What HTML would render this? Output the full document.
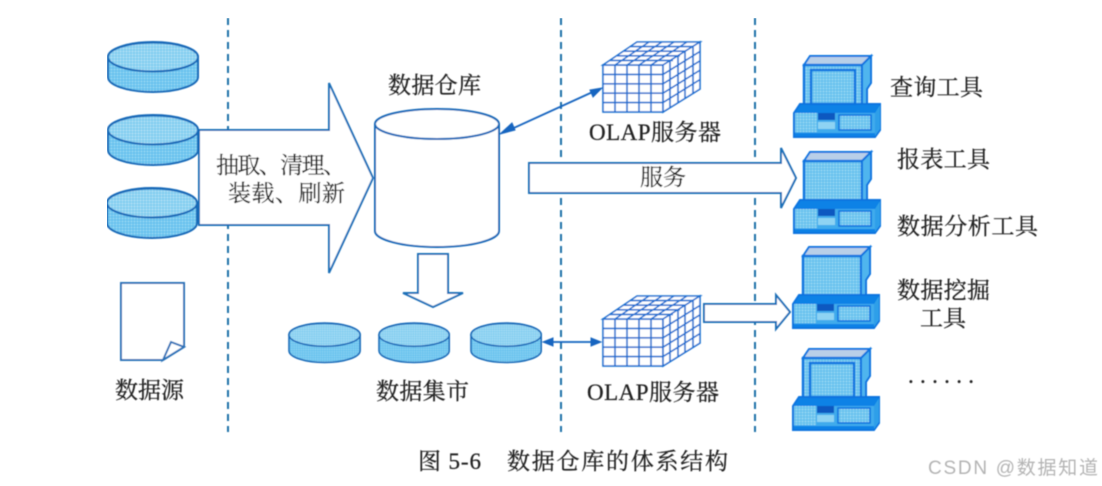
<!DOCTYPE html>
<html>
<head>
<meta charset="utf-8">
<style>
html,body{margin:0;padding:0;background:#fff;width:1102px;height:486px;overflow:hidden}
svg{display:block}
text{font-family:"Liberation Serif","Noto Serif CJK SC",serif;fill:#222;stroke:#222;stroke-width:.25}
</style>
</head>
<body>
<svg width="1102" height="486" viewBox="0 0 1102 486" xmlns="http://www.w3.org/2000/svg">
<defs>
<filter id="soft" x="0" y="0" width="100%" height="100%"><feGaussianBlur stdDeviation="0.5"/></filter>
<pattern id="dots" width="3" height="3" patternUnits="userSpaceOnUse">
<rect width="3" height="3" fill="#72c8f0"/>
<rect width="1" height="1" fill="#a9def5"/>
<rect x="1.5" y="1.5" width="1" height="1" fill="#52b5ea"/>
</pattern>
<pattern id="dotsTop" width="3" height="3" patternUnits="userSpaceOnUse">
<rect width="3" height="3" fill="#8fd3f2"/>
<rect width="1" height="1" fill="#c4e8f7"/>
<rect x="1.5" y="1.5" width="1" height="1" fill="#6cc3ec"/>
</pattern>
<g id="disk">
<path d="M0 15 V35 A45 15 0 0 0 90 35 V15 A45 15 0 0 0 0 15 Z" fill="url(#dots)" stroke="#1569b8" stroke-width="2"/>
<ellipse cx="45" cy="15" rx="45" ry="14.5" fill="url(#dotsTop)" stroke="#1569b8" stroke-width="2"/>
</g>
<g id="pc">
<path d="M10 9 L16 0 H77 L68 9 Z" fill="#b9cfe8" stroke="#0a74e0" stroke-width="2"/>
<rect x="10" y="9" width="58" height="41" fill="url(#dots)" stroke="#0a74e0" stroke-width="2.4"/>
<path d="M68 9 L77 0 V27 L73 33 V48 H68 Z" fill="#4fb5ee" stroke="#0a74e0" stroke-width="2"/>
<path d="M0 57 L6 48 H86 V74 L81 81 H0 Z" fill="#0a82e6" stroke="#0a74e0" stroke-width="2"/>
<rect x="1" y="57" width="80" height="20" fill="#3fabec"/>
<rect x="1" y="57" width="22" height="19" fill="url(#dots)"/>
<rect x="24" y="57" width="17" height="7" fill="#0a58c0"/>
<rect x="24" y="66" width="17" height="7" fill="#8ed3f3"/>
<rect x="45" y="59" width="32" height="15" fill="url(#dots)" stroke="#0a74e0" stroke-width="1.6"/>
<path d="M81 57 L86 49 V73 L81 80 Z" fill="#2f9fe9"/>
</g>
<rect id="scr" width="44" height="34" fill="url(#dots)" stroke="#0a74e0" stroke-width="2.4"/>
<g id="cube" fill="none" stroke="#1a6fd0" stroke-width="1.6">
<rect x="603" y="65" width="60" height="47" fill="#fff"/>
<path d="M615 65V112M627 65V112M639 65V112M651 65V112M603 74.4H663M603 83.8H663M603 93.2H663M603 102.6H663"/>
<path d="M603 65 L637 42 H700 L663 65 Z" fill="#fff"/>
<path d="M663 65 L700 42 V89 L663 112 Z" fill="#fff"/>
<path d="M615 65 L649 42M627 65 L662 42M639 65 L674 42M651 65 L687 42M610 60.4 H673M617 55.8 H680M624 51.2 H686M630 46.6 H693"/>
<path d="M670 60.4V107.4M678 55.8V102.8M685 51.2V98.2M693 46.6V93.6M663 74.4 L700 51.4M663 83.8 L700 60.8M663 93.2 L700 70.2M663 102.6 L700 79.6"/>
</g>
</defs>

<rect width="1102" height="486" fill="#fff"/>

<g filter="url(#soft)">
<g stroke="#1d6fa8" stroke-width="2" stroke-dasharray="7 5" fill="none">
<path d="M228 18 V432"/>
<path d="M561 18 V432"/>
<path d="M755 18 V432"/>
</g>

<!-- big arrow -->
<path d="M199 130 H329 V83 L373 178 L329 273 V225 H199 Z" fill="#fff" stroke="#1f6fb8" stroke-width="2"/>

<use href="#disk" transform="translate(108,42)"/>
<use href="#disk" transform="translate(108,115)"/>
<use href="#disk" transform="translate(107,188)"/>

<!-- warehouse -->
<path d="M375 124 V231 A62 16 0 0 0 499 231 V124" fill="#fff" stroke="#1569b8" stroke-width="2"/>
<ellipse cx="437" cy="124" rx="62" ry="15" fill="#fff" stroke="#1569b8" stroke-width="2"/>

<!-- down arrow -->
<path d="M418 254 H448 V293 H463 L433 307 L403 293 H418 Z" fill="#fff" stroke="#1f6fb8" stroke-width="2"/>

<!-- marts -->
<use href="#disk" transform="translate(289,323) scale(.79,.79)"/>
<use href="#disk" transform="translate(379,323) scale(.78,.79)"/>
<use href="#disk" transform="translate(471,323) scale(.78,.79)"/>

<!-- paper -->
<path d="M121 283 H184 V347 L163 360 H121 Z" fill="#fff" stroke="#2a72b8" stroke-width="2"/>
<path d="M163 360 L171 342 L184 347 Z" fill="#fff" stroke="#2a72b8" stroke-width="2"/>

<!-- cubes -->
<use href="#cube"/>
<use href="#cube" transform="translate(0,254)"/>

<!-- connectors -->
<path d="M505 132 L597 90" stroke="#1565c0" stroke-width="1.8" fill="none"/>
<path d="M500 134 L512 123 L515 130 Z M602 88 L590 90 L593 97 Z" fill="#1565c0" stroke="#1565c0"/>
<path d="M550 342 H594" stroke="#1565c0" stroke-width="1.8" fill="none"/>
<path d="M543 342 L553 338 V346 Z M601 342 L591 338 V346 Z" fill="#1565c0" stroke="#1565c0"/>

<!-- service arrow -->
<path d="M529 163 H781 V148 L796 178 L781 208 V193 H529 Z" fill="#fff" stroke="#1f6fb8" stroke-width="2"/>
<!-- small arrow -->
<path d="M704 304 H776 V295 L790 312 L776 329 V322 H704 Z" fill="#fff" stroke="#1f6fb8" stroke-width="2"/>

<!-- computers -->
<use href="#pc" transform="translate(794,56)"/>
<use href="#scr" transform="translate(811,70)"/>
<use href="#pc" transform="translate(794,152)"/>
<use href="#pc" transform="translate(793,247)"/>
<use href="#pc" transform="translate(793,349)"/>
<use href="#scr" transform="translate(810,363)"/>

<!-- labels -->
<g font-size="23">
<text x="388" y="93" textLength="93">数据仓库</text>
<text x="216" y="173" textLength="130">抽取、清理、</text>
<text x="228" y="201" textLength="117">装载、刷新</text>
<text x="115" y="398" textLength="69">数据源</text>
<text x="376" y="399" textLength="93">数据集市</text>
<text x="589" y="140" textLength="132">OLAP服务器</text>
<text x="587" y="400" textLength="132">OLAP服务器</text>
<text x="640" y="185" textLength="46">服务</text>
<text x="890" y="95" textLength="93">查询工具</text>
<text x="897" y="167" textLength="93">报表工具</text>
<text x="897" y="234" textLength="141">数据分析工具</text>
<text x="897" y="298" textLength="93">数据挖掘</text>
<text x="920" y="326" textLength="46">工具</text>
<text x="908" y="383" textLength="66">......</text>
</g>
<text x="418" y="469" font-size="23" textLength="63">图 5-6</text>
<text x="507" y="469" font-size="23" textLength="221">数据仓库的体系结构</text>
<text x="928" y="474" font-size="19" textLength="170" style="font-family:'Liberation Sans','Noto Sans CJK SC',sans-serif;fill:#b4b4b4;stroke:none">CSDN @数据知道</text>
</g>
</svg>
</body>
</html>
